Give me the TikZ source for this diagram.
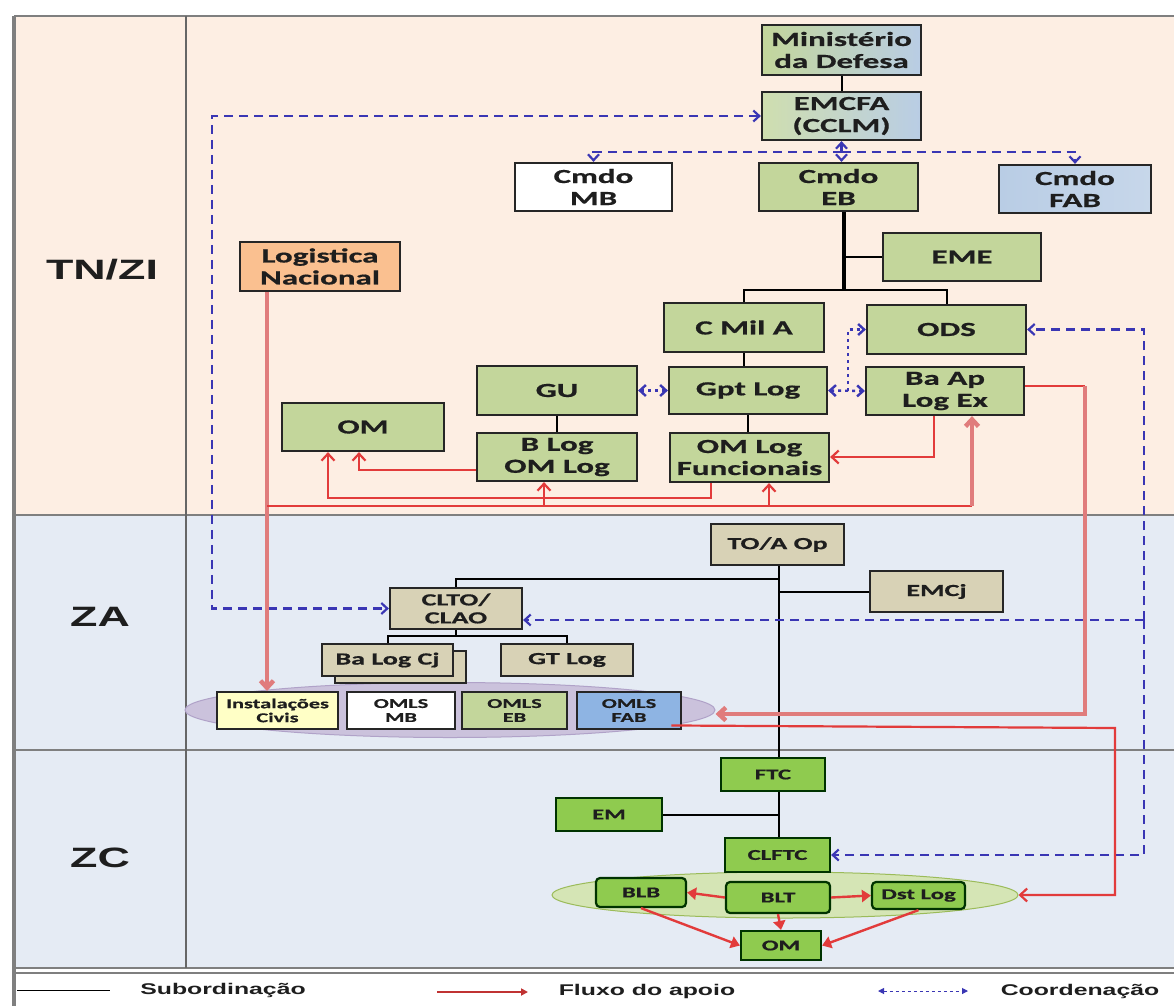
\documentclass[tikz,border=0pt]{standalone}
\usepackage{fontspec}
\setmainfont{Carlito}[FakeStretch=1.65, BoldFeatures={FakeBold=0.7}]
\newfontfamily\lblfont{Liberation Sans}[FakeStretch=1.6]
\usetikzlibrary{arrows.meta,calc,shapes.geometric}

\definecolor{peach}{HTML}{FDEEE3}
\definecolor{bandblue}{HTML}{E5EBF4}
\definecolor{olive}{HTML}{C3D69B}
\definecolor{skyb}{HTML}{B9CDE5}
\definecolor{orng}{HTML}{FAC090}
\definecolor{tanfill}{HTML}{D8D2B6}
\definecolor{brgreen}{HTML}{8FCB4F}
\definecolor{cblue}{HTML}{3A36B4}
\definecolor{cred}{HTML}{E23B3B}
\definecolor{cpink}{HTML}{E07C7C}
\definecolor{lav}{HTML}{CBC2DC}
\definecolor{lavline}{HTML}{B0A2C8}
\definecolor{lgreen}{HTML}{D5E5B5}
\definecolor{lgline}{HTML}{9BBB59}
\definecolor{yell}{HTML}{FFFFC6}
\definecolor{fabb}{HTML}{8EB4E3}
\definecolor{framec}{HTML}{7F7F7F}
\definecolor{txt}{HTML}{1E1E1E}

\begin{document}
\begin{tikzpicture}[x=1pt,y=-1pt,
  box/.style={draw=black!85, line width=2.2pt, inner sep=0pt, align=center,
    font=\bfseries\fontsize{20}{22}\selectfont, text=txt},
  gbox/.style={box, fill=olive},
  zabox/.style={box, fill=tanfill, font=\bfseries\fontsize{17}{18}\selectfont},
  elbox/.style={box, line width=2pt, font=\bfseries\fontsize{13.5}{14}\selectfont},
  zcbox/.style={box, fill=brgreen, draw=black!80!green, font=\bfseries\fontsize{15}{16}\selectfont},
  subl/.style={draw=black, line width=2pt},
  subthick/.style={draw=black, line width=3.5pt},
  coordl/.style={draw=cblue, line width=2.2pt, dash pattern=on 9pt off 6pt,
    arrows={-Straight Barb[length=6pt,width=11pt]}},
  coorddot/.style={draw=cblue, line width=2.4pt, dash pattern=on 3pt off 4pt},
  bar/.style={arrows={Straight Barb[length=6pt,width=11pt]-Straight Barb[length=6pt,width=11pt]}},
  supl/.style={draw=cred, line width=2.2pt},
  supthick/.style={draw=cpink, line width=4.5pt},
  redtip/.style={arrows={-Straight Barb[length=7pt,width=13pt]}},
  zctip/.style={draw=cred, line width=2.4pt, arrows={-Triangle[length=9pt,width=12pt]}},
  zonelbl/.style={font=\lblfont\bfseries\fontsize{28}{30}\selectfont, text=txt},
  legtext/.style={font=\lblfont\bfseries\fontsize{15.5}{17}\selectfont, text=txt},
  framel/.style={draw=framec, line width=1.5pt}
]
\useasboundingbox (0,0) rectangle (1174,1006);
% ---------- background bands ----------
\fill[white] (0,0) rectangle (1174,1006);
\fill[peach] (14,16) rectangle (1174,515);
\fill[bandblue] (14,515) rectangle (1174,968);
\draw[framel] (14,16) -- (1174,16);
\draw[framel] (14,515) -- (1174,515);
\draw[framel] (14,750) -- (1174,750);
\draw[framel] (14,968) -- (1174,968);
\draw[framel] (14,973) -- (1174,973);
\draw[draw=black!60, line width=1.5pt] (186,16) -- (186,968);
\draw[draw=framec, line width=4pt] (14,16) -- (14,1006);

\node[zonelbl] (ltn) at (102,270) {TN/ZI};
\node[zonelbl] (lza) at (100,617) {ZA};
\node[zonelbl] (lzc) at (100,858) {ZC};

% ---------- ellipses ----------
\node[ellipse, draw=lavline, fill=lav, line width=1pt, minimum width=530pt, minimum height=55pt, inner sep=0pt] (zaell) at (450,710) {};
\node[ellipse, draw=lgline, fill=lgreen, line width=1pt, minimum width=466pt, minimum height=46pt, inner sep=0pt] (zcell) at (785,895) {};

% ---------- TN/ZI nodes ----------
\node[box, left color=olive, right color=skyb, minimum width=159pt, minimum height=50pt] (mindef) at (841.5,50) {Ministério\\da Defesa};
\node[box, left color=olive!80!white, right color=skyb, minimum width=159pt, minimum height=48pt] (emcfa) at (841.5,116) {EMCFA\\(CCLM)};
\node[box, fill=white, minimum width=157pt, minimum height=48pt] (cmdomb) at (593.5,187) {Cmdo\\MB};
\node[gbox, minimum width=159pt, minimum height=48pt] (cmdoeb) at (838.5,187) {Cmdo\\EB};
\node[box, left color=skyb, right color=skyb!80!white, minimum width=152pt, minimum height=48pt] (cmdofab) at (1075,189) {Cmdo\\FAB};
\node[gbox, minimum width=158pt, minimum height=48pt] (eme) at (962,257) {EME};
\node[gbox, minimum width=160pt, minimum height=49pt] (cmila) at (744,327.5) {C Mil A};
\node[gbox, minimum width=159pt, minimum height=49pt] (ods) at (946.5,329.5) {ODS};
\node[gbox, minimum width=160pt, minimum height=49pt] (gu) at (557,390.5) {GU};
\node[gbox, minimum width=158pt, minimum height=47pt] (gptlog) at (748,390.5) {Gpt Log};
\node[gbox, minimum width=158pt, minimum height=48pt] (baap) at (945,391) {Ba Ap\\Log Ex};
\node[gbox, minimum width=162pt, minimum height=48pt] (om1) at (363,427) {OM};
\node[gbox, minimum width=160pt, minimum height=48pt] (blog) at (557,457) {B Log\\OM Log};
\node[gbox, minimum width=159pt, minimum height=49pt] (omlf) at (749.5,457.5) {OM Log\\Funcionais};
\node[box, fill=orng, minimum width=160pt, minimum height=49pt] (lognac) at (320,266.5) {Logistica\\Nacional};

% ---------- ZA nodes ----------
\node[zabox, minimum width=133pt, minimum height=41pt] (toaop) at (777.5,544.5) {TO/A Op};
\node[zabox, minimum width=133pt, minimum height=41pt] (emcj) at (936.5,591.5) {EMCj};
\node[zabox, minimum width=132pt, minimum height=41pt] (clto) at (456,608.5) {CLTO/\\CLAO};
\node[zabox, minimum width=131pt, minimum height=32pt] (balogcjback) at (400.5,667) {};
\node[zabox, minimum width=131pt, minimum height=32pt] (balogcj) at (387.5,660) {Ba Log Cj};
\node[zabox, minimum width=132pt, minimum height=32pt] (gtlog) at (567,660) {GT Log};
\node[elbox, fill=yell, minimum width=121pt, minimum height=37pt] (instciv) at (277.5,710.5) {Instalações\\Civis};
\node[elbox, fill=white, minimum width=108pt, minimum height=37pt] (omlsmb) at (401,710.5) {OMLS\\MB};
\node[elbox, fill=olive, minimum width=105pt, minimum height=37pt] (omlseb) at (514.5,710.5) {OMLS\\EB};
\node[elbox, fill=fabb, minimum width=104pt, minimum height=37pt] (omlsfab) at (629,710.5) {OMLS\\FAB};

% ---------- ZC nodes ----------
\node[zcbox, minimum width=104pt, minimum height=33pt] (ftc) at (773,774.5) {FTC};
\node[zcbox, minimum width=106pt, minimum height=33pt] (em) at (609,814.5) {EM};
\node[zcbox, minimum width=105pt, minimum height=34pt] (clftc) at (777.5,855) {CLFTC};
\node[zcbox, rounded corners=4pt, minimum width=90pt, minimum height=29pt] (blb) at (641,892.5) {BLB};
\node[zcbox, rounded corners=4pt, minimum width=104pt, minimum height=31pt] (blt) at (778,897.5) {BLT};
\node[zcbox, rounded corners=4pt, minimum width=93pt, minimum height=27pt] (dstlog) at (918.5,895.5) {Dst Log};
\node[zcbox, minimum width=80pt, minimum height=29pt] (om2) at (781,945.5) {OM};

% ---------- subordination ----------
\coordinate (jEB) at (844,290);
\draw[subl] (mindef) -- (emcfa);
\draw[subthick] (cmdoeb.south -| jEB) -- (jEB);
\draw[subl] (cmila.north) -- (cmila.north |- jEB) -- (ods.north |- jEB) -- (ods.north);
\draw[subl] (eme.west -| jEB) -- (eme.west);
\draw[subl] (cmila.south) -- (cmila.south |- gptlog.north);
\draw[subl] (gptlog.south) -- (gptlog.south |- omlf.north);
\draw[subl] (gu.south) -- (blog.north);

\coordinate (v1) at (779,579);
\draw[subl] (toaop.south -| v1) -- (ftc.north -| v1);
\draw[subl] (v1) -| (clto.north);
\draw[subl] (emcj.west) -- (emcj.west -| v1);
\coordinate (h1) at (456,636);
\draw[subl] (clto.south) -- (h1);
\draw[subl] (balogcj.north) |- (h1) -| (gtlog.north);
\draw[subl] (ftc.south -| v1) -- (clftc.north -| v1);
\draw[subl] (em.east) -- (em.east -| v1);

% ---------- coordination ----------
\coordinate (bL) at (593.5,152);
\coordinate (bR) at (1075,152);
\draw[coordl] (emcfa.south |- bL) -- (bL) -- (cmdomb.north);
\draw[coordl] (emcfa.south |- bL) -- (bR) -- (cmdofab.north);
\draw[coordl, bar] (emcfa.south) -- (emcfa.south |- cmdoeb.north);
\coordinate (lc) at (212,400);
\draw[coordl, bar] (emcfa.west) -| (lc) |- (clto.west);
\coordinate (rj) at (1144,620);
\draw[coordl] (rj) |- (ods.east);
\draw[coordl] (rj) |- (clftc.east);
\draw[coordl] (rj) -- (rj -| clto.east);
\draw[coorddot, bar] (gu.east) -- (gptlog.west);
\draw[coorddot, bar] (gptlog.east) -- (baap.west);
\coordinate (gd) at (848,391);
\draw[coorddot, arrows={-Straight Barb[length=6pt,width=11pt]}] (gd) |- (ods.west);

% ---------- support flow ----------
\coordinate (ln) at (267,506);
\coordinate (br) at (972,506);
\draw[supthick, redtip] (lognac.south -| ln) -- (instciv.north -| ln);
\draw[supl] (ln) -- (br);
\draw[supthick, redtip] (br) -- (baap.south -| br);
\coordinate (a544) at (544,506);
\draw[supl, redtip] (a544) -- (blog.south -| a544);
\coordinate (a769) at (769,506);
\draw[supl, redtip] (a769) -- (omlf.south -| a769);
\coordinate (b711) at (711,498);
\coordinate (b328) at (328,498);
\draw[supl, redtip] (omlf.south -| b711) -- (b711) -- (b328) -- (om1.south -| b328);
\coordinate (c359) at (359,470);
\draw[supl, redtip] (blog.west |- c359) -- (c359) -- (om1.south -| c359);
\coordinate (d934) at (934,457);
\draw[supl, redtip] (baap.south -| d934) -- (d934) -- (omlf.east |- d934);
\coordinate (e1) at (1085,386);
\coordinate (e2) at (1085,714);
\draw[supl] (baap.east |- e1) -- (e1);
\draw[supthick, redtip] (e1) -- (e2) -- (zaell.east |- e2);
\coordinate (f1) at (1115,728);
\coordinate (f2) at (1115,895);
\draw[supl, redtip] (zaell.-4) -- (f1) -- (f2) -- (zcell.east);

\draw[zctip] (blt.west) -- (blb.east);
\draw[zctip] (blt.east) -- (dstlog.west);
\draw[zctip] (blt.south) -- (om2.north);
\draw[zctip] (blb.south) -- (om2.west);
\draw[zctip] (dstlog.south) -- (om2.east);

% ---------- legend ----------
\coordinate (lg1a) at (17,990);
\coordinate (lg1b) at (110,990);
\draw[black, line width=1pt] (lg1a) -- (lg1b);
\node[legtext] (lgsub) at (223,990) {Subordinação};
\coordinate (lg2a) at (437,992);
\coordinate (lg2b) at (528,992);
\draw[cred!85!black, line width=1.8pt, -{Triangle[length=7pt,width=7pt]}] (lg2a) -- (lg2b);
\node[legtext] (lgflux) at (647,991) {Fluxo do apoio};
\coordinate (lg3a) at (878,991);
\coordinate (lg3b) at (968,991);
\draw[cblue, line width=1pt, dash pattern=on 3pt off 3pt, {Triangle[length=6pt,width=6pt]}-{Triangle[length=6pt,width=6pt]}] (lg3a) -- (lg3b);
\node[legtext] (lgcoord) at (1080,991) {Coordenação};
\end{tikzpicture}
\end{document}
